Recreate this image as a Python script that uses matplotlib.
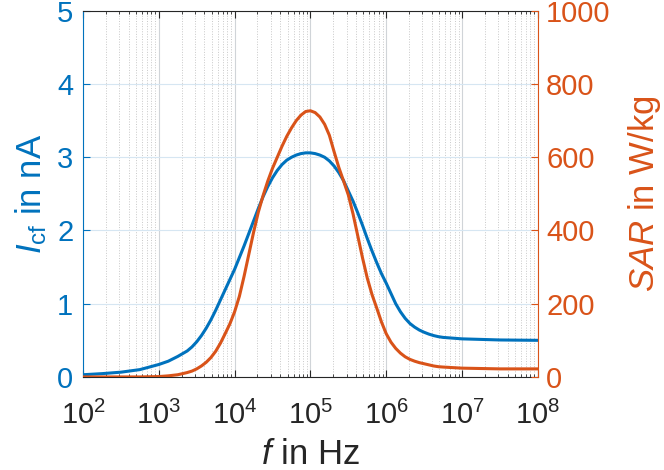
import numpy as np
import matplotlib
matplotlib.use("Agg")
import matplotlib.pyplot as plt
from matplotlib.ticker import LogLocator, NullFormatter, FixedLocator

plt.rcParams['font.family'] = ['Liberation Sans', 'DejaVu Sans']
plt.rcParams['mathtext.fontset'] = 'custom'
plt.rcParams['mathtext.rm'] = 'Liberation Sans'
plt.rcParams['mathtext.it'] = 'Liberation Sans:italic'

# log10 of f in Hz
log_f = [2.0, 2.25, 2.5, 2.75, 3.0, 3.125, 3.25, 3.375, 3.4375, 3.5,
         3.5625, 3.625, 3.6875, 3.75, 3.8125, 3.875, 3.9375, 4.0,
         4.0625, 4.125, 4.1875, 4.25, 4.3125, 4.375, 4.4375, 4.5,
         4.5625, 4.625, 4.6875, 4.75, 4.8125, 4.875, 4.9375, 5.0,
         5.0625, 5.125, 5.1875, 5.25, 5.3125, 5.375, 5.4375, 5.5,
         5.5625, 5.625, 5.6875, 5.75, 5.8125, 5.875, 5.9375, 6.0,
         6.0625, 6.125, 6.1875, 6.25, 6.3125, 6.375, 6.4375, 6.5,
         6.5625, 6.625, 6.6875, 6.75, 7.0, 7.5, 8.0]
# I_cf in nA (left axis)
i_cf = [0.03, 0.045, 0.065, 0.10, 0.17, 0.215, 0.28, 0.355, 0.41, 0.48,
        0.565, 0.665, 0.78, 0.91, 1.05, 1.19, 1.33, 1.47,
        1.63, 1.79, 1.96, 2.13, 2.30, 2.46, 2.60, 2.72,
        2.82, 2.90, 2.96, 3.00, 3.03, 3.05, 3.06, 3.06,
        3.05, 3.03, 3.00, 2.95, 2.88, 2.79, 2.68, 2.54,
        2.40, 2.24, 2.07, 1.89, 1.72, 1.56, 1.41, 1.28,
        1.14, 1.00, 0.89, 0.80, 0.73, 0.68, 0.64, 0.61,
        0.585, 0.565, 0.55, 0.54, 0.52, 0.505, 0.50]
# SAR in W/kg (right axis)
sar = [0, 0, 0, 0, 1, 3, 6, 12, 16, 22,
       30, 40, 53, 70, 92, 118, 145, 178,
       220, 275, 335, 395, 450, 495, 535, 570,
       600, 630, 657, 680, 700, 715, 725, 727,
       722, 710, 690, 660, 615, 572, 535, 497,
       445, 385, 325, 270, 225, 188, 150, 118,
       95, 78, 65, 55, 48, 43, 39, 36,
       33, 30, 28, 27, 24, 22, 22]

blue = '#0072BD'
orange = '#D95319'
dark = '#262626'

f = np.power(10.0, log_f)

fig = plt.figure(figsize=(6.64, 4.70), dpi=100)
ax = fig.add_axes([0.125, 0.198, 0.685, 0.779])
ax2 = ax.twinx()

ax.plot(f, i_cf, color=blue, lw=2.2)
ax2.plot(f, sar, color=orange, lw=2.2)

ax.set_xscale('log')
ax.set_xlim(1e2, 1e8)
ax.set_ylim(0, 5)
ax2.set_ylim(0, 1000)

ax.xaxis.set_major_locator(LogLocator(base=10, numticks=10))
ax.xaxis.set_minor_locator(LogLocator(base=10, subs=np.arange(2, 10), numticks=20))
ax.xaxis.set_minor_formatter(NullFormatter())
ax.yaxis.set_major_locator(FixedLocator([0, 1, 2, 3, 4, 5]))
ax2.yaxis.set_major_locator(FixedLocator([0, 200, 400, 600, 800, 1000]))

# grid
ax.grid(True, which='major', axis='x', color='#d0d4d8', lw=0.8, ls='-')
ax.grid(True, which='minor', axis='x', color='#c8c8c8', lw=0.7, ls=':')
ax.grid(True, which='major', axis='y', color='#d6e6f2', lw=0.8, ls='-')
ax.set_axisbelow(True)

# spines
for s in ['top', 'bottom']:
    ax.spines[s].set_color(dark)
    ax2.spines[s].set_visible(False)
ax.spines['left'].set_color(blue)
ax.spines['right'].set_visible(False)
ax2.spines['left'].set_visible(False)
ax2.spines['right'].set_color(orange)

ax.tick_params(axis='x', which='both', direction='in', top=True, colors=dark,
               labelsize=21, pad=17)
ax.tick_params(axis='x', which='major', length=5)
ax.tick_params(axis='x', which='minor', length=2.5)
ax.tick_params(axis='y', direction='in', colors=blue, labelsize=21, length=5, pad=7)
ax2.tick_params(axis='y', direction='in', colors=orange, labelsize=21, length=5, pad=6)

ax.set_xlabel(r'$\mathit{f}$ in Hz', fontsize=25, color=dark, labelpad=6)
ax.set_ylabel(r'$\mathit{I}_{\mathrm{cf}}$ in nA', fontsize=25, color=blue, labelpad=6)
ax2.set_ylabel(r'$\mathit{SAR}$ in W/kg', fontsize=25, color=orange, labelpad=11)

fig.savefig('out.png', dpi=100)
